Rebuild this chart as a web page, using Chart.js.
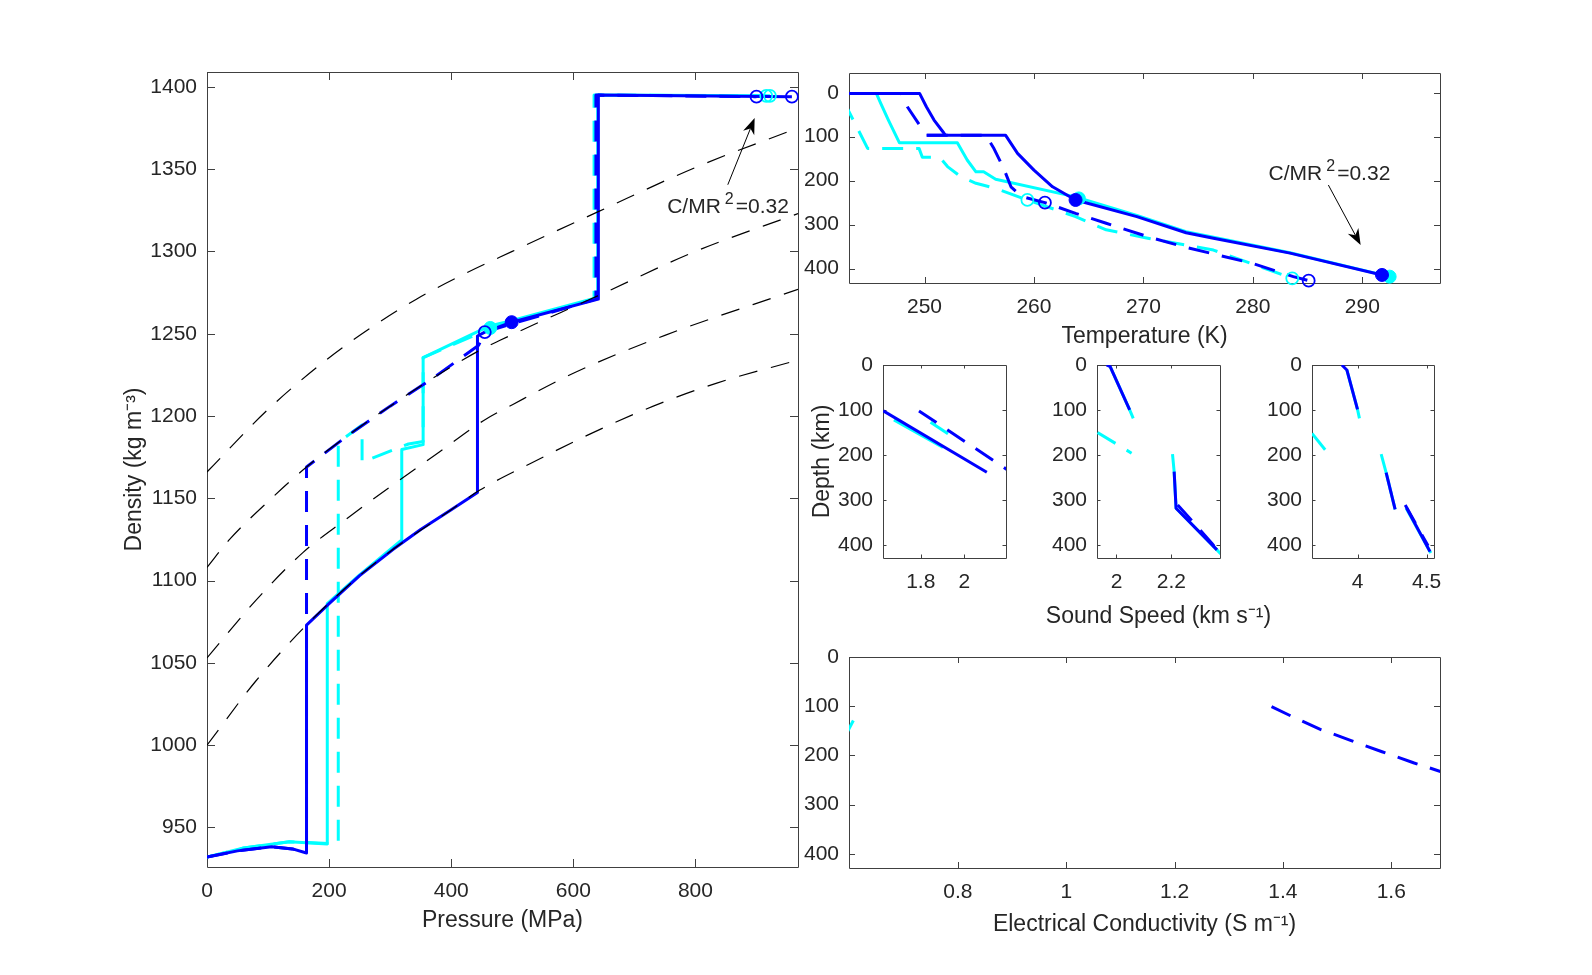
<!DOCTYPE html>
<html>
<head>
<meta charset="utf-8">
<script src="https://cdn.jsdelivr.net/npm/chart.js@4/dist/chart.umd.min.js"></script>
<style>
  html, body { margin: 0; padding: 0; background: #fff; }
  #fig { position: relative; width: 1592px; height: 975px; overflow: hidden; background: #fff; }
  #fig canvas { position: absolute; }
</style>
</head>
<body>
<div id="fig">
  <canvas id="densityChart"></canvas>
  <canvas id="tempChart"></canvas>
  <canvas id="soundA"></canvas>
  <canvas id="soundB"></canvas>
  <canvas id="soundC"></canvas>
  <canvas id="condChart"></canvas>
</div>
<script>
const FONT = '"Liberation Sans", Arial, Helvetica, sans-serif';
Chart.defaults.font.family = FONT;
Chart.defaults.font.size = 21;
Chart.defaults.color = '#262626';

const BLUE = '#0000ff';
const CYAN = '#00ffff';

// ---------- density vs pressure ----------
const pressureTicks = [0, 200, 400, 600, 800];
const densityTicks = [950, 1000, 1050, 1100, 1150, 1200, 1250, 1300, 1350, 1400];

// black dashed reference curves [P (MPa), rho (kg m-3)]
const refA = [[0,1166],[100,1204],[195,1234],[270,1254],[343,1271],[420,1286],[500,1300],[640,1324],[800,1351],[968,1375]];
const refB = [[0,1108],[37,1125],[100,1148],[163,1169],[230,1188],[300,1206],[370,1223],[447,1240],[480,1246],[610,1268],[640,1273],[800,1300],[968,1323]];
const refC = [[0,1053],[80,1088],[157,1117],[223,1136],[300,1157],[380,1178],[452,1197],[501,1207],[600,1226],[750,1249],[968,1277]];
const refD = [[0,1000],[80,1039],[163,1073],[250,1103],[305,1119],[400,1143],[447,1155],[529,1171],[627,1189],[731,1206],[835,1220],[968,1234]];

const rhoBlueSolid = [[0,932],[50,935.8],[106,938.3],[140,937],[163,934.5],[163,1073],[200,1086],[250,1103],[305,1119],[350,1131],[400,1143],[443,1153.6],[443,1248.6],[455,1251],[499,1257],[641,1271],[641,1395],[958,1394]];
const rhoBlueDashed = [[0,932],[50,935.8],[106,938.3],[140,937],[163,934.5],[163,1169],[230,1188],[300,1206],[370,1223],[445,1243],[455,1251],[500,1256],[637,1271],[637,1395],[900,1394]];
const rhoCyanSolid = [[0,932],[60,937.5],[135,941.4],[197,940],[197,1086],[250,1103.5],[319,1124.7],[319,1179.6],[354,1182.6],[354,1235.5],[463,1254.7],[500,1258],[640,1272],[640,1395],[922,1394.5]];
const rhoCyanDashed = [[0,932],[60,937.5],[135,941.4],[215,940],[215,1184],[254,1194.5],[254,1172],[330,1183],[354,1184.5],[354,1235.5],[463,1253],[634,1271],[634,1395],[916,1394.5]];
const rhoDotBlue = [[499,1257]];
const rhoRingBlue = [[455,1251],[900,1394],[958,1394]];
const rhoDotCyan = [[464,1253.5]];
const rhoRingCyan = [[916,1394.5],[922,1394.5]];

// ---------- temperature vs depth ----------
const tempTicks = [250, 260, 270, 280, 290];
const depthTicks = [0, 100, 200, 300, 400];
const tBlueSolidShell = [[243,1.5],[249.55,1.5],[250.17,31.8],[250.87,62.2],[251.75,91],[251.9,96.5]];
const tBlueSolidOcean = [[250.2,96.5],[257.4,96.5],[258.5,138],[260,176],[261.7,214],[263.8,244],[269.4,282],[273.9,318.6],[276.4,331],[283.4,365],[291.8,414.7]];
const tBlueDashedShell = [[243,1.5],[247.9,1.5],[248.43,31.8],[249.55,73.5],[250.1,96.5]];
const tBlueDashedOcean = [[250.2,96.5],[255.6,96.5],[256.3,125],[257.2,170],[257.9,214],[258.9,236.5],[261,250],[263.8,274.5],[266.6,297],[270.4,327.5],[273.6,350],[279.9,388],[283.7,418.5],[285.1,427.6]];
const tCyanSolid = [[243,1.5],[245.6,1.5],[246.0,24],[246.7,62],[247.7,113.7],[253,113.7],[253.9,153],[254.7,180],[255.4,180],[256.5,197],[263.8,237],[269.4,279],[273.9,316],[276.4,329],[283.4,364],[292.5,418.5]];
const tCyanDashed = [[242.6,18],[243.1,43],[244.8,126.6],[249.5,126.6],[249.8,147],[251.4,147],[252.1,168],[253.3,191],[254.7,206],[256.5,217.6],[259.4,244],[263.8,282],[266.6,312],[270.4,331],[276.4,358],[283.6,422]];
const tDotBlue = [[263.8,244],[291.8,414.7]];
const tDotCyan = [[264.1,240.5],[292.5,418.5]];
const tRingBlue = [[261,250.2],[285.1,427.6]];
const tRingCyan = [[259.4,244],[283.6,422.3]];

// ---------- sound speed vs depth (three panels) ----------
const speedTicksA = [1.8, 2];
const vBlueSolidA = [[1.628,102],[2.103,238.5]];
const vCyanSolidA = [[1.677,122],[1.902,183]];
const vBlueDashedA = [[1.792,102],[2.21,237]];
const vCyanDashedA = [[1.845,127],[1.925,153]];

const speedTicksB = [2, 2.2];
const vBlueSolidB1 = [[1.964,0],[1.977,3.7],[2.048,100]];
const vCyanSolidB1 = [[1.977,3.7],[2.048,100],[2.061,118.5]];
const vCyanDashedB = [[1.931,150],[2.055,196]];
const vCyanSolidB2 = [[2.204,198],[2.21,237],[2.217,318.5],[2.366,411],[2.38,420]];
const vBlueSolidB2 = [[2.21,237],[2.217,318.5],[2.366,411]];
const vBlueDashedB = [[2.223,311],[2.347,396],[2.385,425]];

const speedTicksC = [4, 4.5];
const vBlueSolidC1 = [[3.887,0],[3.923,11],[4.0,98.5]];
const vCyanSolidC1 = [[3.923,11],[4.0,98.5],[4.014,118.5]];
const vCyanDashedC = [[3.671,152],[3.786,196]];
const vCyanSolidC2 = [[4.171,198],[4.207,239],[4.272,320.7]];
const vBlueSolidC2 = [[4.207,239],[4.272,320.7]];
const vCyanSolidC3 = [[4.351,318],[4.53,418]];
const vBlueSolidC3 = [[4.355,318],[4.524,414.8]];
const vBlueDashedC3 = [[4.345,311],[4.51,402]];

// ---------- electrical conductivity vs depth ----------
const condTicks = [0.8, 1, 1.2, 1.4, 1.6];
const cBlueDashed = [[1.379,101],[1.415,120],[1.469,147],[1.526,170],[1.583,192.6],[1.641,215],[1.7,236]];
const cCyanDashed = [[0.59,165],[0.607,129]];

// ---------- helpers ----------
const xy = a => a.map(([x, y]) => ({ x, y }));

function line(d, color, extra) {
  return Object.assign({
    data: xy(d),
    borderColor: color,
    backgroundColor: color,
    borderWidth: 3,
    pointRadius: 0,
    fill: false,
    tension: 0,
    clip: 0,
    borderJoinStyle: 'round',
  }, extra || {});
}
const solid = (d, c) => line(d, c);
const dashed = (d, c) => line(d, c, { borderDash: [21, 13] });
const ref = d => line(d, '#000', { borderWidth: 1.2, borderDash: [19, 14], cubicInterpolationMode: 'monotone' });
const dots = (d, c) => ({
  data: xy(d), showLine: false, clip: false,
  pointRadius: 6.5, pointBorderWidth: 1, pointBorderColor: c, pointBackgroundColor: c,
});
const rings = (d, c) => ({
  data: xy(d), showLine: false, clip: false,
  pointRadius: 6, pointBorderWidth: 1.8, pointBorderColor: c, pointBackgroundColor: 'rgba(0,0,0,0)',
});

// box with inward tick marks on all four sides
const matlabBox = {
  id: 'matlabBox',
  beforeDatasetsDraw(chart, args, opts) {
    const { ctx, chartArea: a, scales: { x, y } } = chart;
    const len = opts.len;
    ctx.save();
    ctx.strokeStyle = '#404040';
    ctx.lineWidth = 1;
    ctx.beginPath();
    x.ticks.forEach(t => {
      const p = Math.round(x.getPixelForValue(t.value)) + 0.5;
      ctx.moveTo(p, a.bottom); ctx.lineTo(p, a.bottom - len);
      ctx.moveTo(p, a.top); ctx.lineTo(p, a.top + len);
    });
    y.ticks.forEach(t => {
      const p = Math.round(y.getPixelForValue(t.value)) + 0.5;
      ctx.moveTo(a.left, p); ctx.lineTo(a.left + len, p);
      ctx.moveTo(a.right, p); ctx.lineTo(a.right - len, p);
    });
    ctx.rect(Math.round(a.left) + 0.5, Math.round(a.top) + 0.5, Math.round(a.right - a.left), Math.round(a.bottom - a.top));
    ctx.stroke();
    ctx.restore();
  }
};

// "C/MR^2=0.32" label with arrow, plus a title wider than the plot box
const callout = {
  id: 'callout',
  afterDatasetsDraw(chart, args, o) {
    const { ctx, chartArea: area, scales: { x, y } } = chart;
    if (o.wideTitle) {
      ctx.save();
      ctx.font = '23px ' + FONT;
      ctx.fillStyle = '#262626';
      ctx.textAlign = 'center';
      ctx.textBaseline = 'middle';
      ctx.fillText(o.wideTitle, (area.left + area.right) / 2, area.bottom + o.titleOffset);
      ctx.restore();
    }
    if (!o.at) return;
    const px = p => [x.getPixelForValue(p[0]), y.getPixelForValue(p[1])];
    const [tx, ty] = px(o.at);
    const [x0, y0] = px(o.from);
    const [x1, y1] = px(o.to);
    ctx.save();
    ctx.fillStyle = '#000';
    ctx.strokeStyle = '#000';
    ctx.lineWidth = 1;
    const ang = Math.atan2(y1 - y0, x1 - x0);
    const hl = 16, hw = 6;
    ctx.beginPath();
    ctx.moveTo(x0, y0);
    ctx.lineTo(x1 - Math.cos(ang) * hl * 0.7, y1 - Math.sin(ang) * hl * 0.7);
    ctx.stroke();
    ctx.save();
    ctx.translate(x1, y1);
    ctx.rotate(ang);
    ctx.beginPath();
    ctx.moveTo(0, 0);
    ctx.lineTo(-hl, -hw);
    ctx.lineTo(-hl * 0.7, 0);
    ctx.lineTo(-hl, hw);
    ctx.closePath();
    ctx.fill();
    ctx.restore();

    const a = 'C/MR', b = '2', c = '=0.32';
    ctx.font = '21px ' + FONT;
    const wa = ctx.measureText(a).width, wc = ctx.measureText(c).width;
    ctx.font = '16px ' + FONT;
    const wb = ctx.measureText(b).width;
    const total = wa + 4 + wb + 2 + wc;
    const sx = tx - total / 2;
    const base = ty + 7.5;
    ctx.textBaseline = 'alphabetic';
    ctx.textAlign = 'left';
    ctx.fillStyle = '#262626';
    ctx.font = '21px ' + FONT;
    ctx.fillText(a, sx, base);
    ctx.font = '16px ' + FONT;
    ctx.fillText(b, sx + wa + 4, base - 9);
    ctx.font = '21px ' + FONT;
    ctx.fillText(c, sx + wa + 4 + wb + 2, base);
    ctx.restore();
  }
};

function axisOpts(which, ax, size) {
  return {
    type: 'linear',
    position: which === 'x' ? 'bottom' : 'left',
    min: ax.min,
    max: ax.max,
    reverse: !!ax.reverse,
    afterBuildTicks: s => { s.ticks = ax.ticks.map(v => ({ value: v })); },
    afterFit: s => { if (which === 'x') s.height = size; else s.width = size; },
    grid: { display: false, drawTicks: false },
    border: { display: false },
    ticks: {
      padding: which === 'x' ? 12 : 10,
      color: '#262626',
      font: { size: 21 },
      autoSkip: false,
      maxRotation: 0,
      callback: v => String(+Number(v).toFixed(3)),
    },
    title: {
      display: !!ax.title,
      text: ax.title || '',
      color: '#262626',
      font: { size: 23 },
    },
  };
}

// area = plot box in page pixels; yw / xh = room for the axes
function panel(id, area, cfg) {
  const PT = 24, PR = cfg.pr || 30;
  const cv = document.getElementById(id);
  const w = area.R - area.L + cfg.yw + PR;
  const h = area.B - area.T + PT + cfg.xh;
  cv.width = w; cv.height = h;
  cv.style.left = (area.L - cfg.yw) + 'px';
  cv.style.top = (area.T - PT) + 'px';
  cv.style.width = w + 'px';
  cv.style.height = h + 'px';
  return new Chart(cv, {
    type: 'line',
    data: { datasets: cfg.datasets },
    options: {
      responsive: false,
      animation: false,
      devicePixelRatio: 1,
      layout: { padding: { left: 0, top: PT, right: PR, bottom: 0 } },
      plugins: {
        legend: { display: false },
        tooltip: { enabled: false },
        matlabBox: { len: cfg.tickLen },
        callout: cfg.callout || {},
      },
      scales: {
        x: axisOpts('x', cfg.x, cfg.xh),
        y: axisOpts('y', cfg.y, cfg.yw),
      },
    },
    plugins: [matlabBox, callout],
  });
}

// density vs pressure
panel('densityChart', { L: 207, T: 72, R: 798, B: 867 }, {
  yw: 90, xh: 71, tickLen: 8,
  x: { min: 0, max: 968, ticks: pressureTicks, title: 'Pressure (MPa)' },
  y: { min: 926, max: 1409, ticks: densityTicks, title: 'Density (kg m⁻³)' },
  callout: { at: [853.4, 1328], from: [853, 1340.5], to: [897, 1381] },
  datasets: [
    dots(rhoDotBlue, BLUE), rings(rhoRingBlue, BLUE),
    dots(rhoDotCyan, CYAN), rings(rhoRingCyan, CYAN),
    ref(refA), ref(refB), ref(refC), ref(refD),
    solid(rhoBlueSolid, BLUE), dashed(rhoBlueDashed, BLUE),
    solid(rhoCyanSolid, CYAN), dashed(rhoCyanDashed, CYAN),
  ],
});

// temperature vs depth
panel('tempChart', { L: 849, T: 73, R: 1440, B: 283 }, {
  yw: 60, xh: 71, tickLen: 6,
  x: { min: 243.1, max: 297.1, ticks: tempTicks, title: 'Temperature (K)' },
  y: { min: -45, max: 433, reverse: true, ticks: depthTicks },
  callout: { at: [287, 182], from: [286.9, 210], to: [289.85, 346.5] },
  datasets: [
    dots(tDotBlue, BLUE), dots(tDotCyan, CYAN),
    rings(tRingBlue, BLUE), rings(tRingCyan, CYAN),
    solid(tBlueSolidShell, BLUE), solid(tBlueSolidOcean, BLUE),
    dashed(tBlueDashedShell, BLUE), dashed(tBlueDashedOcean, BLUE),
    solid(tCyanSolid, CYAN), dashed(tCyanDashed, CYAN),
  ],
});

// sound speed panels
panel('soundA', { L: 883, T: 365, R: 1006, B: 558 }, {
  yw: 78, xh: 75, tickLen: 3.5,
  x: { min: 1.627, max: 2.191, ticks: speedTicksA },
  y: { min: 0, max: 429, reverse: true, ticks: depthTicks, title: 'Depth (km)' },
  datasets: [
    solid(vBlueSolidA, BLUE), dashed(vBlueDashedA, BLUE),
    solid(vCyanSolidA, CYAN), dashed(vCyanDashedA, CYAN),
  ],
});

panel('soundB', { L: 1097, T: 365, R: 1220, B: 558 }, {
  yw: 60, xh: 75, tickLen: 3.5, pr: 90,
  x: { min: 1.929, max: 2.377, ticks: speedTicksB },
  y: { min: 0, max: 429, reverse: true, ticks: depthTicks },
  callout: { wideTitle: 'Sound Speed (km s⁻¹)', titleOffset: 59 },
  datasets: [
    solid(vBlueSolidB1, BLUE), solid(vBlueSolidB2, BLUE), dashed(vBlueDashedB, BLUE),
    solid(vCyanSolidB1, CYAN), solid(vCyanSolidB2, CYAN), dashed(vCyanDashedB, CYAN),
  ],
});

panel('soundC', { L: 1312, T: 365, R: 1434, B: 558 }, {
  yw: 60, xh: 75, tickLen: 3.5,
  x: { min: 3.671, max: 4.553, ticks: speedTicksC },
  y: { min: 0, max: 429, reverse: true, ticks: depthTicks },
  datasets: [
    solid(vBlueSolidC1, BLUE), solid(vBlueSolidC2, BLUE), solid(vBlueSolidC3, BLUE), dashed(vBlueDashedC3, BLUE),
    solid(vCyanSolidC1, CYAN), solid(vCyanSolidC2, CYAN), solid(vCyanSolidC3, CYAN), dashed(vCyanDashedC, CYAN),
  ],
});

// electrical conductivity vs depth
panel('condChart', { L: 849, T: 657, R: 1440, B: 868 }, {
  yw: 60, xh: 74, tickLen: 6,
  x: { min: 0.599, max: 1.69, ticks: condTicks, title: 'Electrical Conductivity (S m⁻¹)' },
  y: { min: 0, max: 429, reverse: true, ticks: depthTicks },
  datasets: [
    dashed(cBlueDashed, BLUE), dashed(cCyanDashed, CYAN),
  ],
});
</script>
</body>
</html>
